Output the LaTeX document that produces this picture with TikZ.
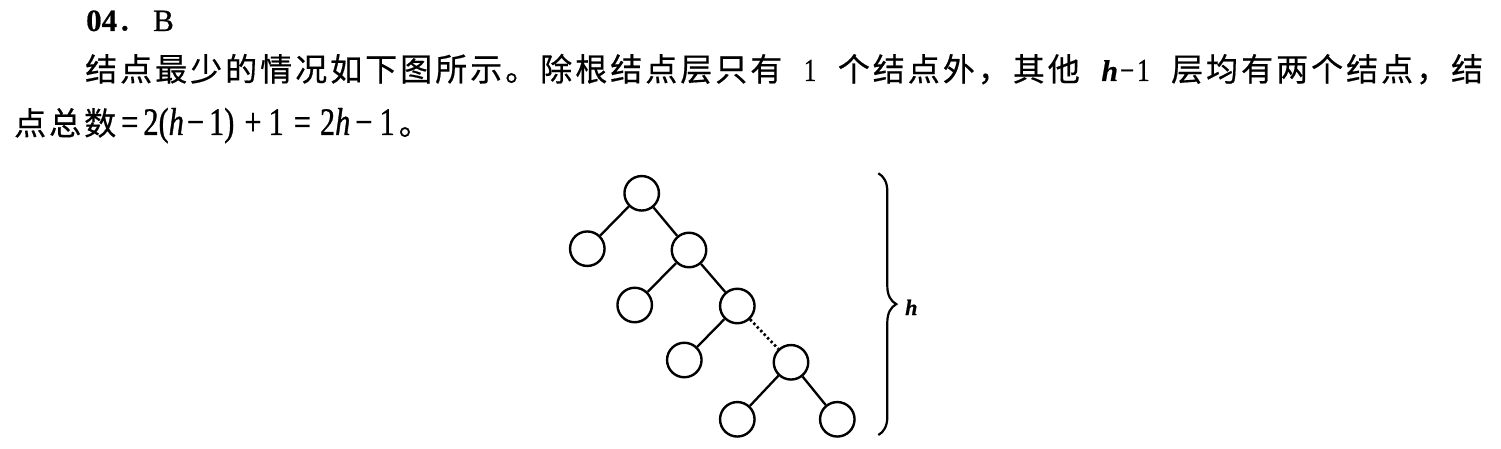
\documentclass[tikz,border=0pt]{standalone}
\usepackage{fontspec}
\setmainfont{Liberation Serif}[FakeBold=0.6]
\newfontfamily\cjk[LetterSpace=9.4,FakeBold=0.5]{Noto Sans CJK SC}
\newfontfamily\condf[FakeStretch=0.78,FakeBold=0.8]{Liberation Serif}
\usetikzlibrary{decorations.pathreplacing}
\newcommand\zh[1]{{\fontsize{32}{38}\cjk #1}}
\newcommand\gapx[1]{\hskip #1pt\relax}
\newcommand\lat[1]{{\fontsize{32}{36}\condf #1}}
\begin{document}
\begin{tikzpicture}[x=1pt,y=-1pt,
  txt/.style={anchor=base west, inner sep=0pt, font=\fontsize{31}{38}\selectfont},
  tn/.style={circle, draw, line width=2.4pt, minimum size=34.5pt, inner sep=0pt},
  edge/.style={line width=2.3pt},
  dotedge/.style={line width=2.7pt, dash pattern=on 2.4pt off 2.6pt},
  brc/.style={line width=2.2pt, decorate, decoration={brace, amplitude=18pt}}]
\useasboundingbox (0,0) rectangle (1501,449);
% text
\node[txt] (t1) at (86,31) {\textbf{04}\zh{．}\gapx{4}B};
\node[txt] (t2) at (85,81) {\hbox to 1398pt{\zh{结点最少的情况如下图所示。除根结点层只有}\hfil\lat{1}\hfil\zh{个结点外，其他}\hfil{\fontsize{30}{36}\selectfont\textbf{\textit{h}}}\lat{\gapx{2}−\gapx{3}1}\hfil\zh{层均有两个结点，结}}};
\node[txt] (t3) at (14,135) {\zh{点总数}{\fontsize{39}{44}\condf\gapx{5}=\gapx{5}2(\textit{h}\gapx{3}−\gapx{5}1)\gapx{10}+\gapx{7}1\gapx{10}=\gapx{9}2\textit{h}\gapx{5}−\gapx{7}1\gapx{4}}\zh{。}};
% tree
\node[tn] (r)  at (641.7,193.3) {};
\node[tn] (a1) at (587.3,248.7) {};
\node[tn] (b1) at (689,250) {};
\node[tn] (a2) at (634.7,305) {};
\node[tn] (b2) at (737.3,306) {};
\node[tn] (a3) at (684.3,360) {};
\node[tn] (b3) at (791,362.3) {};
\node[tn] (c1) at (737.3,419.3) {};
\node[tn] (c2) at (837.3,419.3) {};
\draw[edge] (r) -- (a1);
\draw[edge] (r) -- (b1);
\draw[edge] (b1) -- (a2);
\draw[edge] (b1) -- (b2);
\draw[edge] (b2) -- (a3);
\draw[dotedge] (b2) -- (b3);
\draw[edge] (b3) -- (c1);
\draw[edge] (b3) -- (c2);
% brace
\coordinate (bt) at (878.3,173.3);
\coordinate (bb) at (878.3,435);
\draw[brc] (bt) -- (bb);
\node[anchor=base west, inner sep=0pt, font=\fontsize{22}{26}\selectfont] (h) at (905,315) {\textbf{\textit{h}}};
\end{tikzpicture}
\end{document}
